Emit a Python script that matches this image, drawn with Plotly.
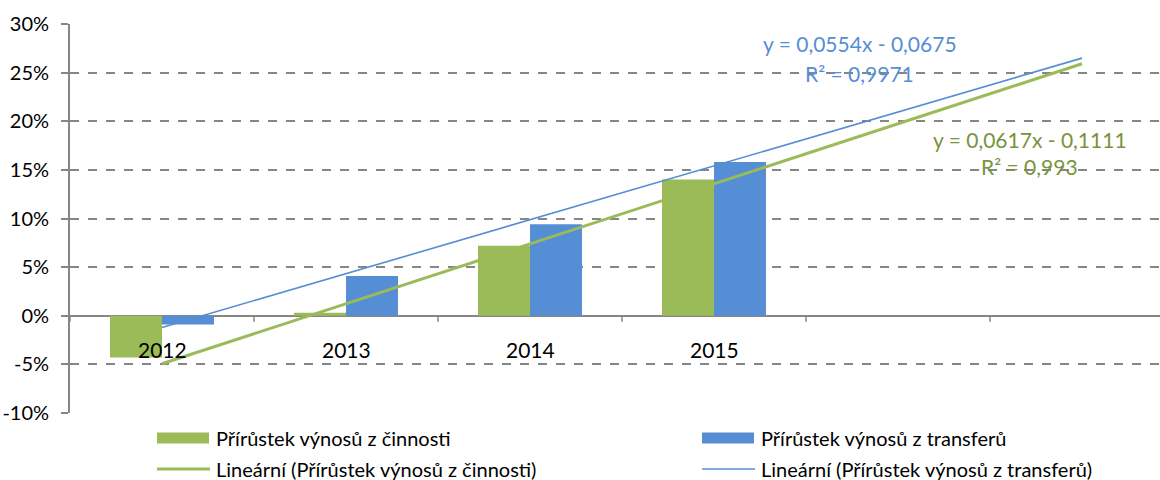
import plotly.graph_objects as go

# ---- data ----
years = ["2012", "2013", "2014", "2015"]
cinnosti = [-0.043, 0.003, 0.072, 0.140]      # Přírůstek výnosů z činnosti
transfery = [-0.009, 0.041, 0.094, 0.158]     # Přírůstek výnosů z transferů
n_categories = 6                               # 4 years + 2 forecast periods
trend_cin = {"slope": 0.0617, "intercept": -0.1111, "r2": "0,993"}
trend_tra = {"slope": 0.0554, "intercept": -0.0675, "r2": "0,9971"}
y_ticks = [-0.10, -0.05, 0.0, 0.05, 0.10, 0.15, 0.20, 0.25, 0.30]
y_tick_labels = ["-10%", "-5%", "0%", "5%", "10%", "15%", "20%", "25%", "30%"]
legend_names = ["Přírůstek výnosů z činnosti", "Přírůstek výnosů z transferů",
                "Lineární (Přírůstek výnosů z činnosti)", "Lineární (Přírůstek výnosů z transferů)"]

GREEN = "#9BBB59"
BLUE = "#558ED5"
GREEN_TXT = "#77933C"
GRID = "#868686"
FONT = "Lato"
FS = 20

W, H = 1160, 480
L, T, B = 70, 24, 67
CAT_PX = 184.0
plot_w = W - L
xs = list(range(1, len(years) + 1))
x_range = [0.5, 0.5 + plot_w / CAT_PX]
bw = 52 / CAT_PX

fig = go.Figure()
fig.add_trace(go.Bar(x=xs, y=cinnosti, width=bw, offset=-bw, marker_color=GREEN,
                     marker_line_width=0, name=legend_names[0]))
fig.add_trace(go.Bar(x=xs, y=transfery, width=bw, offset=0, marker_color=BLUE,
                     marker_line_width=0, name=legend_names[1]))

tx = [1, n_categories]
fig.add_trace(go.Scatter(x=tx, y=[trend_cin["slope"] * v + trend_cin["intercept"] for v in tx],
                         mode="lines", line=dict(color=GREEN, width=3), name=legend_names[2]))
fig.add_trace(go.Scatter(x=tx, y=[trend_tra["slope"] * v + trend_tra["intercept"] for v in tx],
                         mode="lines", line=dict(color=BLUE, width=1.6), name=legend_names[3]))

shapes = []
annotations = []
# x-axis category boundary ticks below zero line
for k in range(0, n_categories + 1):
    shapes.append(dict(type="line", xref="x", yref="y", x0=k + 0.5, x1=k + 0.5,
                       ysizemode="pixel", yanchor=0, y0=0, y1=-6,
                       line=dict(color=GRID, width=1.5)))
# category labels
for x, yr in zip(xs, years):
    annotations.append(dict(x=x, y=0, xref="x", yref="y", text=yr, showarrow=False,
                            xanchor="center", yanchor="top", yshift=-19,
                            font=dict(family=FONT, size=FS + 1, color="#000")))

# trendline equations
def eq(s, i):
    return "y = " + f"{s:.4f}".replace(".", ",") + "x - " + f"{abs(i):.4f}".replace(".", ",")

def px2x(px):
    return (px - L) / plot_w

def py2y(py):
    return (H - B - py) / (H - T - B)

def label(px, py, text, col):
    return dict(x=px2x(px), y=py2y(py), xref="paper", yref="paper", text=text,
                showarrow=False, xanchor="center", yanchor="middle",
                font=dict(family=FONT, size=FS + 1, color=col))

annotations += [
    label(860, 43, eq(trend_tra["slope"], trend_tra["intercept"]), BLUE),
    label(859, 73, "R² = " + trend_tra["r2"], BLUE),
    label(1030, 139, eq(trend_cin["slope"], trend_cin["intercept"]), GREEN_TXT),
    label(1029, 166, "R² = " + trend_cin["r2"], GREEN_TXT),
]

# custom legend
leg = [
    (157, 438, "bar", GREEN, legend_names[0]),
    (702, 438, "bar", BLUE, legend_names[1]),
    (157, 469, "line", GREEN, legend_names[2]),
    (702, 469, "line", BLUE, legend_names[3]),
]
for sx, sy, kind, col, name in leg:
    if kind == "bar":
        shapes.append(dict(type="rect", xref="paper", yref="paper", x0=px2x(sx), x1=px2x(sx + 52),
                           y0=py2y(sy + 5.5), y1=py2y(sy - 5.5), fillcolor=col, line=dict(width=0)))
    else:
        shapes.append(dict(type="line", xref="paper", yref="paper", x0=px2x(sx), x1=px2x(sx + 53),
                           y0=py2y(sy), y1=py2y(sy), line=dict(color=col, width=3 if col == GREEN else 1.6)))
    annotations.append(dict(x=px2x(sx + 57), y=py2y(sy), xref="paper", yref="paper", text=name,
                            showarrow=False, xanchor="left", yanchor="middle",
                            font=dict(family=FONT, size=FS, color="#000")))

fig.update_layout(
    width=W, height=H,
    margin=dict(l=L, r=0, t=T, b=B, pad=0, autoexpand=False),
    paper_bgcolor="white", plot_bgcolor="white",
    barmode="overlay", showlegend=False,
    font=dict(family=FONT, size=FS, color="#000"),
    shapes=shapes, annotations=annotations,
    xaxis=dict(range=x_range, showgrid=False, zeroline=False, showticklabels=False,
               showline=False, ticks="", automargin=False),
    yaxis=dict(range=[-0.10, 0.30], tickvals=y_ticks, ticktext=y_tick_labels,
               showgrid=True, gridcolor=GRID, gridwidth=1.5, griddash="dash",
               zeroline=True, zerolinecolor=GRID, zerolinewidth=1.8,
               showline=True, linecolor=GRID, linewidth=1.8, automargin=False,
               ticks="outside", ticklen=7, tickcolor=GRID, tickwidth=1.5,
               ticklabelstandoff=8,
               tickfont=dict(family=FONT, size=FS, color="#000")),
)

fig.write_html("out.html", config={"displayModeBar": False},
               post_script="document.body.style.margin='0';document.body.style.overflow='hidden';")
